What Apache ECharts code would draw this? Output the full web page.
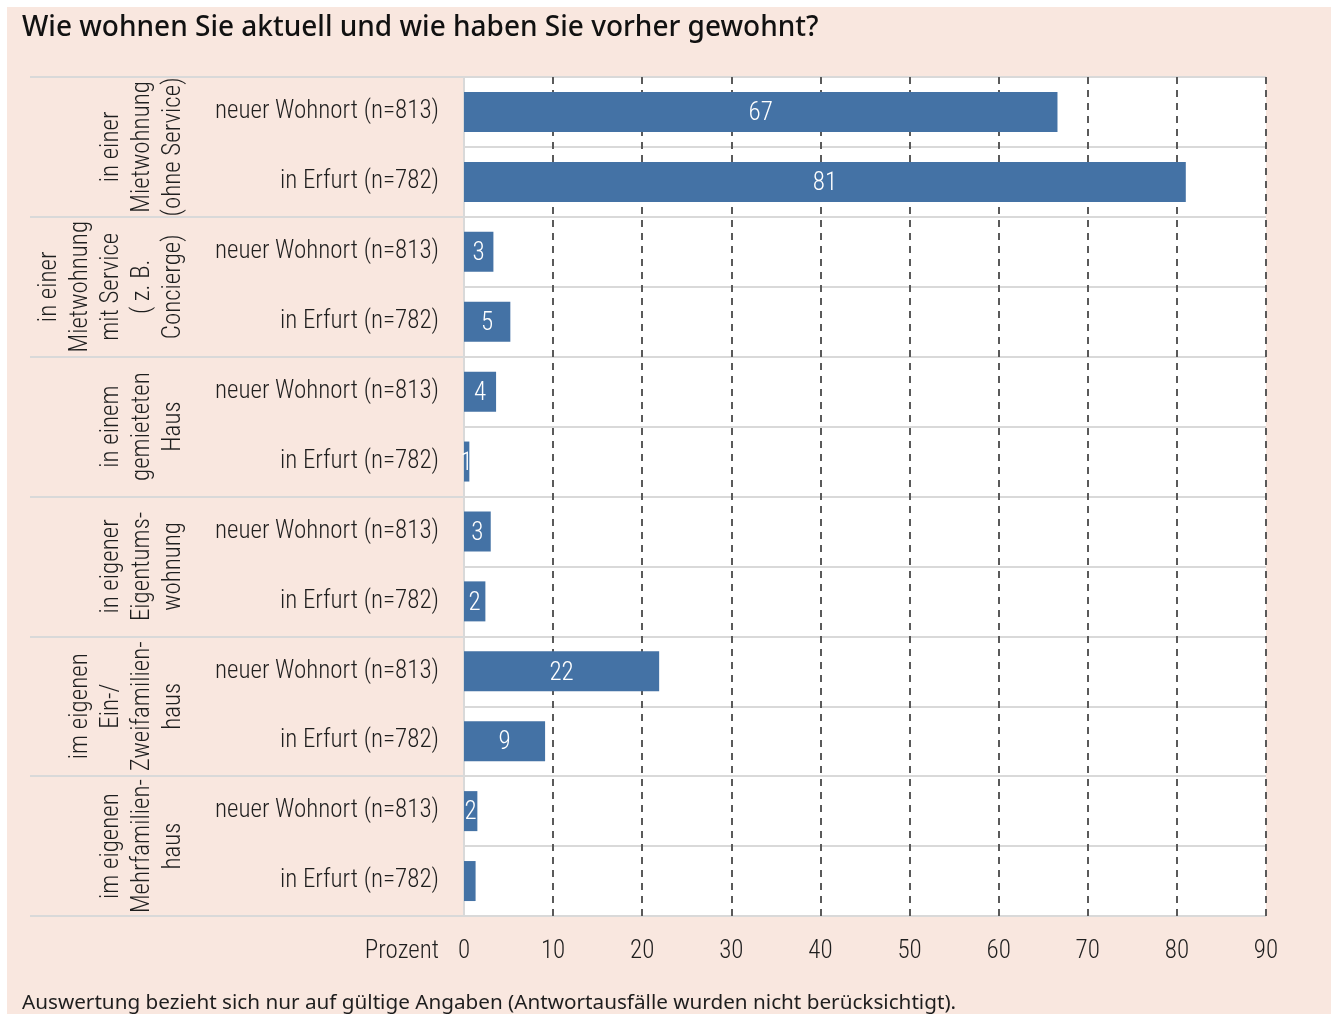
<!DOCTYPE html>
<html>
<head>
<meta charset="utf-8">
<script src="https://cdn.jsdelivr.net/npm/echarts@6/dist/echarts.min.js"></script>
<style>
  html, body { margin: 0; padding: 0; background: #ffffff; }
  #bg { position: absolute; left: 7px; top: 7px; width: 1324px; height: 1007px; background: #f9e7df; }
  #chart { position: absolute; left: 0; top: 0; width: 1331px; height: 1014px; }
</style>
</head>
<body>
<div id="bg"></div>
<div id="chart"></div>
<script>
const titleText = 'Wie wohnen Sie aktuell und wie haben Sie vorher gewohnt?';
const footerText = 'Auswertung bezieht sich nur auf gültige Angaben (Antwortausfälle wurden nicht berücksichtigt).';
const axisName = 'Prozent';

const groupLabels = [
  'in einer\nMietwohnung\n(ohne Service)',
  'in einer\nMietwohnung\nmit Service\n( z. B.\nConcierge)',
  'in einem\ngemieteten\nHaus',
  'in eigener\nEigentums-\nwohnung',
  'im eigenen\nEin-/\nZweifamilien-\nhaus',
  'im eigenen\nMehrfamilien-\nhaus'
];

const rowLabels = [
  'neuer Wohnort (n=813)', 'in Erfurt (n=782)',
  'neuer Wohnort (n=813)', 'in Erfurt (n=782)',
  'neuer Wohnort (n=813)', 'in Erfurt (n=782)',
  'neuer Wohnort (n=813)', 'in Erfurt (n=782)',
  'neuer Wohnort (n=813)', 'in Erfurt (n=782)',
  'neuer Wohnort (n=813)', 'in Erfurt (n=782)'
];

const values = [66.6, 81.0, 3.3, 5.2, 3.6, 0.6, 3.0, 2.4, 21.9, 9.1, 1.5, 1.3];
const valueLabels = ['67', '81', '3', '5', '4', '1', '3', '2', '22', '9', '2', ''];

const xTicks = { min: 0, max: 90, interval: 10 };

const condensed = "'Roboto Condensed', 'Open Sans Condensed', 'PT Sans Narrow', sans-serif";
const lightWeight = 300;
const textColor = '#1e1e1e';
const sepColor = '#d9d9d9';

const chart = echarts.init(document.getElementById('chart'), null, { renderer: 'canvas' });

const option = {
  backgroundColor: 'transparent',
  animation: false,
  grid: {
    left: 464, right: 65, top: 77, bottom: 98,
    show: true, backgroundColor: '#ffffff', borderWidth: 0
  },
  graphic: [
    {
      type: 'text', left: 22, top: 14,
      style: { text: titleText, font: "500 28px 'Noto Sans', sans-serif", fill: '#111111' }
    },
    {
      type: 'text', left: 22, top: 993,
      style: { text: footerText, font: "20.7px 'Noto Sans', sans-serif", fill: '#1e1e1e' }
    },
    {
      type: 'text', x: 439, y: 952,
      style: { text: axisName, font: lightWeight + " 25px " + condensed, fill: textColor, align: 'right', verticalAlign: 'middle' }
    }
  ],
  xAxis: {
    type: 'value',
    min: xTicks.min, max: xTicks.max, interval: xTicks.interval,
    axisLine: { show: false },
    axisTick: { show: false },
    axisLabel: { fontSize: 25, fontWeight: lightWeight, fontFamily: condensed, color: textColor, margin: 23 },
    splitLine: {
      show: true, showMinLine: false,
      lineStyle: { color: '#5a5a5a', width: 2, type: [7, 6] }
    }
  },
  yAxis: [
    {
      type: 'category',
      data: rowLabels,
      inverse: true,
      axisLine: { show: true, lineStyle: { color: sepColor, width: 2 } },
      axisTick: { show: false },
      axisLabel: {
        fontSize: 25, fontWeight: lightWeight, fontFamily: condensed, color: textColor,
        margin: 25, interval: 0, padding: [4, 0, 0, 0]
      },
      splitLine: { show: true, interval: 0, lineStyle: { color: sepColor, width: 2 } }
    },
    {
      type: 'category',
      data: groupLabels,
      inverse: true,
      position: 'left',
      offset: 0,
      axisLine: { show: false },
      axisTick: { show: true, interval: 0, length: 434, lineStyle: { color: sepColor, width: 2 } },
      axisLabel: {
        rotate: 90, margin: 275, fontSize: 25, lineHeight: 31, interval: 0,
        fontWeight: lightWeight, fontFamily: condensed, color: textColor
      },
      splitLine: { show: false }
    }
  ],
  series: [
    {
      type: 'bar',
      yAxisIndex: 0,
      barWidth: 40,
      data: values.map((v, i) => ({ value: v, label: { show: valueLabels[i] !== '' } })),
      itemStyle: { color: '#4472a5' },
      label: {
        show: true, position: 'inside', color: '#ffffff', offset: [0, 2],
        fontSize: 25, fontWeight: lightWeight, fontFamily: condensed,
        formatter: p => valueLabels[p.dataIndex]
      }
    }
  ]
};

chart.setOption(option);
</script>
</body>
</html>
